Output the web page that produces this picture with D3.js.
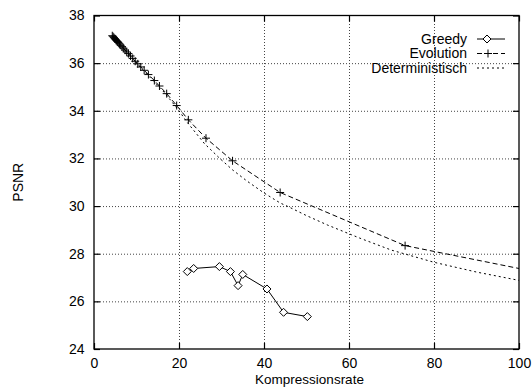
<!DOCTYPE html>
<html><head><meta charset="utf-8">
<script src="https://cdn.jsdelivr.net/npm/d3@7"></script>
<style>
html,body{margin:0;padding:0;background:#fff;}
svg{display:block;font-family:"Liberation Sans",Arial,Helvetica,sans-serif;}
</style></head>
<body>
<script>
const xTicks = [0, 20, 40, 60, 80, 100];
const yTicks = [24, 26, 28, 30, 32, 34, 36, 38];
const seriesNames = ["Greedy", "Evolution", "Deterministisch"];

const greedyX = [21.95, 23.45, 29.5, 32.1, 33.9, 35.0, 40.7, 44.6, 50.2];
const greedyY = [27.25, 27.38, 27.46, 27.25, 26.66, 27.13, 26.52, 25.54, 25.36];

const evoX = [4.3, 4.5, 4.7, 4.9, 5.1, 5.3, 5.5, 5.7, 6.0, 6.3, 6.6, 6.9, 7.3, 7.7, 8.1, 8.6, 9.1, 9.7, 10.3, 11.0, 11.8, 12.8, 14.2, 15.4, 17.1, 19.45, 22.2, 26.35, 32.6, 43.8, 73.2, 100];
const evoY = [37.15, 37.11, 37.07, 37.03, 36.99, 36.95, 36.91, 36.87, 36.81, 36.75, 36.69, 36.63, 36.55, 36.47, 36.40, 36.30, 36.20, 36.08, 35.97, 35.84, 35.70, 35.52, 35.27, 35.04, 34.72, 34.22, 33.62, 32.85, 31.9, 30.57, 28.34, 27.38];

const detX = [4.3, 6, 8, 10, 12, 14, 16, 18, 20, 22, 26, 29.6, 32.6, 36, 40, 43.8, 46, 50, 55, 62.6, 70, 80, 90, 100];
const detY = [37.15, 36.8, 36.42, 36.0, 35.62, 35.25, 34.88, 34.45, 34.0, 33.5, 32.62, 32.0, 31.52, 31.05, 30.55, 30.13, 29.95, 29.6, 29.2, 28.65, 28.15, 27.64, 27.23, 26.88];

const W = 532, H = 387;
const L = 94, R = 519, T = 15.5, B = 349;

const svg = d3.select("body").append("svg").attr("width", W).attr("height", H);
const x = d3.scaleLinear().domain([0, 100]).range([L, R]);
const y = d3.scaleLinear().domain([24, 38]).range([B, T]);

svg.append("defs").append("clipPath").attr("id", "clip")
  .append("rect").attr("x", L).attr("y", T).attr("width", R - L).attr("height", B - T);

// grid
const gx = svg.append("g").attr("transform", `translate(0,${B})`)
  .call(d3.axisBottom(x).tickValues(xTicks.slice(1, -1)).tickSize(-(B - T)).tickFormat(""));
const gy = svg.append("g").attr("transform", `translate(${L},0)`)
  .call(d3.axisLeft(y).tickValues(yTicks.slice(1, -1)).tickSize(-(R - L)).tickFormat(""));
[gx, gy].forEach(g => {
  g.select(".domain").remove();
  g.selectAll("line").attr("stroke", "#444").attr("stroke-width", 1).attr("stroke-dasharray", "1,2");
});

// axes with inward ticks
const fs = 14;
const ax = svg.append("g").attr("transform", `translate(0,${B})`)
  .call(d3.axisBottom(x).tickValues(xTicks).tickSize(-6).tickPadding(9.5).tickFormat(d3.format("d")));
const axT = svg.append("g").attr("transform", `translate(0,${T})`)
  .call(d3.axisTop(x).tickValues(xTicks).tickSize(-6).tickFormat(""));
const ay = svg.append("g").attr("transform", `translate(${L},0)`)
  .call(d3.axisLeft(y).tickValues(yTicks).tickSize(-6).tickPadding(9.5).tickFormat(d3.format("d")));
const ayR = svg.append("g").attr("transform", `translate(${R},0)`)
  .call(d3.axisRight(y).tickValues(yTicks).tickSize(-6).tickFormat(""));
[ax, axT, ay, ayR].forEach(g => {
  g.select(".domain").remove();
  g.selectAll("line").attr("stroke", "#000").attr("stroke-width", 1.2);
  g.selectAll("text").attr("fill", "#000").style("font-size", fs + "px").style("font-family", '"Liberation Sans",Arial,sans-serif');
});

svg.append("rect").attr("x", L).attr("y", T).attr("width", R - L).attr("height", B - T)
  .attr("fill", "none").attr("stroke", "#000").attr("stroke-width", 1.3);

// axis titles
svg.append("text").attr("x", (L + R) / 2 + 3).attr("y", 384.3).attr("text-anchor", "middle")
  .style("font-size", "13.5px").text("Kompressionsrate");
svg.append("text").attr("transform", `translate(23,${(T + B) / 2}) rotate(-90)`).attr("text-anchor", "middle")
  .style("font-size", "14px").text("PSNR");

const plot = svg.append("g").attr("clip-path", "url(#clip)");
const line = d3.line().x(d => x(d[0])).y(d => y(d[1]));

const det = d3.zip(detX, detY);
const evo = d3.zip(evoX, evoY);
const gre = d3.zip(greedyX, greedyY);

plot.append("path").attr("d", line(det)).attr("fill", "none").attr("stroke", "#000")
  .attr("stroke-width", 1).attr("stroke-dasharray", "2,3");
plot.append("path").attr("d", line(evo)).attr("fill", "none").attr("stroke", "#000")
  .attr("stroke-width", 1).attr("stroke-dasharray", "5,3");
plot.append("path").attr("d", line(gre)).attr("fill", "none").attr("stroke", "#000").attr("stroke-width", 1);

const plus = (g, cx, cy) => {
  g.append("path").attr("d", `M${cx - 4},${cy}H${cx + 4}M${cx},${cy - 4}V${cy + 4}`)
    .attr("stroke", "#000").attr("stroke-width", 1).attr("fill", "none");
};
const diamond = (g, cx, cy) => {
  g.append("path").attr("d", `M${cx},${cy - 4}L${cx + 4},${cy}L${cx},${cy + 4}L${cx - 4},${cy}Z`)
    .attr("stroke", "#000").attr("stroke-width", 1).attr("fill", "#fff");
};
evo.filter(d => d[0] < 100).forEach(d => plus(plot, x(d[0]), y(d[1])));
gre.forEach(d => diamond(plot, x(d[0]), y(d[1])));

// legend
const lg = svg.append("g");
const rows = [43.5, 58, 72.5];
const textR = 467, s0 = 477, s1 = 505, sm = 489;
seriesNames.forEach((n, i) => {
  lg.append("text").attr("x", textR).attr("y", rows[i]).attr("text-anchor", "end")
    .style("font-size", "14px").text(n);
});
const cy0 = rows[0] - 4.5, cy1 = rows[1] - 4.5, cy2 = rows[2] - 4.5;
lg.append("line").attr("x1", s0).attr("x2", s1).attr("y1", cy0).attr("y2", cy0).attr("stroke", "#000");
diamond(lg, sm - 2, cy0);
lg.append("line").attr("x1", s0).attr("x2", s1).attr("y1", cy1).attr("y2", cy1).attr("stroke", "#000").attr("stroke-dasharray", "5,3");
plus(lg, sm - 1, cy1);
lg.append("line").attr("x1", s0).attr("x2", s1).attr("y1", cy2).attr("y2", cy2).attr("stroke", "#000").attr("stroke-dasharray", "2,3");
</script>
</body></html>
